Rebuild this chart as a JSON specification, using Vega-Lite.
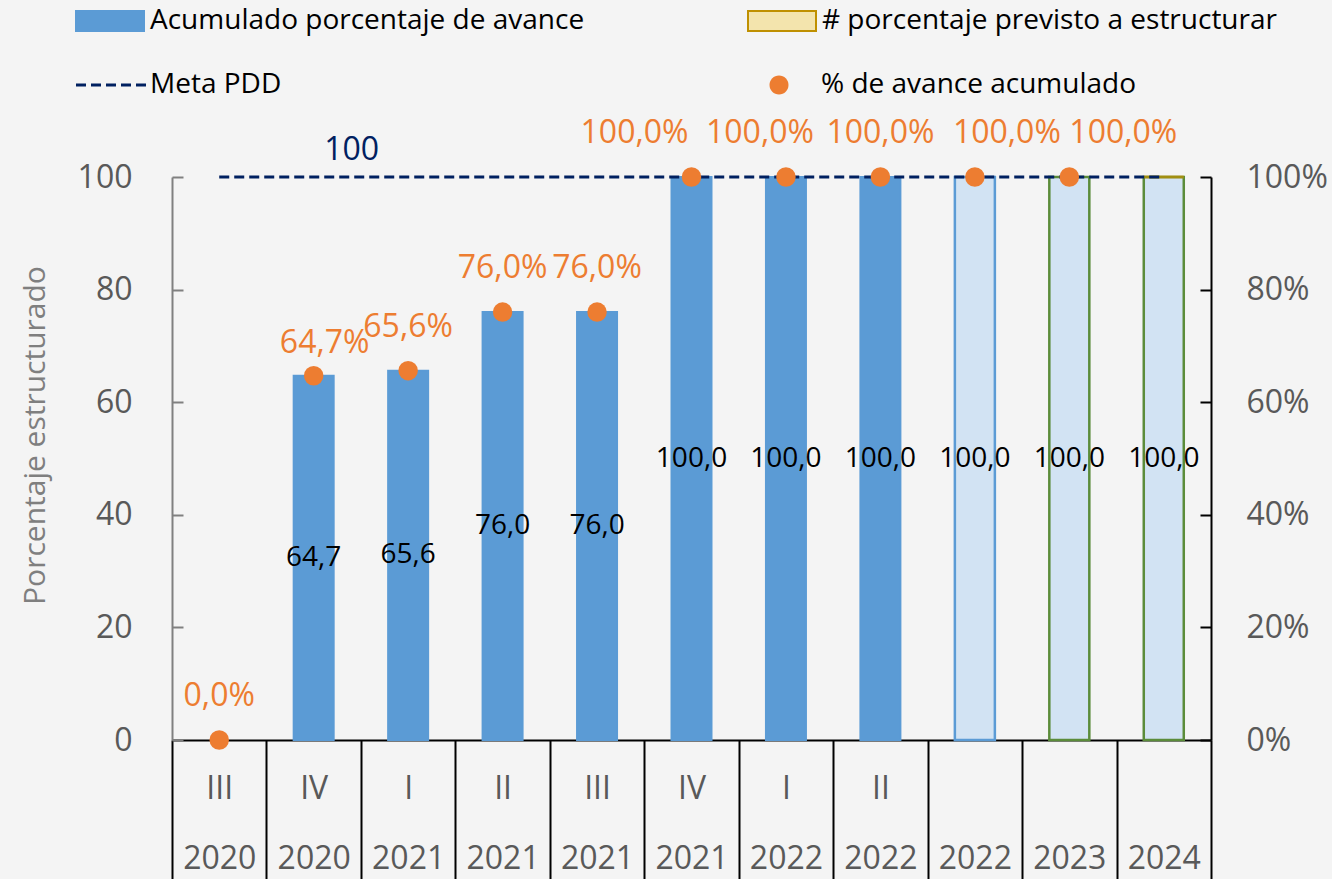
{
  "$schema": "https://vega.github.io/schema/vega-lite/v6.json",
  "width": 1039,
  "height": 563,
  "autosize": {"type": "none"},
  "padding": {"left": 172, "top": 177, "right": 121, "bottom": 139},
  "background": "#f4f4f4",
  "config": {
    "locale": {"number": {"decimal": ",", "thousands": ".", "grouping": [3], "currency": ["", " €"]}},
    "view": {"stroke": null},
    "font": "Open Sans",
    "axis": {"grid": false},
    "legend": {"title": null, "orient": "none", "symbolSize": 400, "labelFontSize": 28, "labelColor": "#000000", "labelOffset": 50, "padding": 0, "labelLimit": 0}
  },
  "data": {
    "values": [
      {"periodo": "III|2020", "tipo": "Acumulado porcentaje de avance", "avance": 0, "pct": 0, "meta": 100},
      {"periodo": "IV|2020", "tipo": "Acumulado porcentaje de avance", "avance": 64.7, "pct": 0.647, "meta": 100},
      {"periodo": "I|2021", "tipo": "Acumulado porcentaje de avance", "avance": 65.6, "pct": 0.656, "meta": 100},
      {"periodo": "II|2021", "tipo": "Acumulado porcentaje de avance", "avance": 76.0, "pct": 0.76, "meta": 100},
      {"periodo": "III|2021", "tipo": "Acumulado porcentaje de avance", "avance": 76.0, "pct": 0.76, "meta": 100},
      {"periodo": "IV|2021", "tipo": "Acumulado porcentaje de avance", "avance": 100.0, "pct": 1.0, "meta": 100},
      {"periodo": "I|2022", "tipo": "Acumulado porcentaje de avance", "avance": 100.0, "pct": 1.0, "meta": 100},
      {"periodo": "II|2022", "tipo": "Acumulado porcentaje de avance", "avance": 100.0, "pct": 1.0, "meta": 100},
      {"periodo": "|2022", "tipo": "# porcentaje previsto a estructurar", "avance": 100.0, "pct": 1.0, "meta": 100},
      {"periodo": "|2023", "tipo": "# porcentaje previsto a estructurar", "avance": 100.0, "pct": 1.0, "meta": 100},
      {"periodo": "|2024", "tipo": "# porcentaje previsto a estructurar", "avance": 100.0, "pct": null, "meta": 100}
    ]
  },
  "layer": [
    {
      "transform": [{"filter": "datum.tipo === 'Acumulado porcentaje de avance' && datum.avance > 0"}],
      "mark": {"type": "bar", "width": 40, "strokeWidth": 2},
      "encoding": {
        "x": {
          "field": "periodo", "type": "nominal", "sort": null,
          "scale": {"domain": ["III|2020", "IV|2020", "I|2021", "II|2021", "III|2021", "IV|2021", "I|2022", "II|2022", "|2022", "|2023", "|2024"], "paddingInner": 0, "paddingOuter": 0},
          "axis": {
            "title": null, "labelExpr": "isValid(datum.value) ? split(datum.value, '|') : ''", "labelAngle": 0,
            "labelFontSize": 32, "labelColor": "#595959", "labelLineHeight": 70,
            "labelBaseline": "top", "labelPadding": -106, "labelOverlap": false, "labelBound": false,
            "tickBand": "extent", "tickSize": 139, "tickColor": "#000000", "tickWidth": 2,
            "domainColor": "#000000", "domainWidth": 2
          }
        },
        "y": {
          "field": "avance", "type": "quantitative",
          "scale": {"domain": [0, 100], "nice": false},
          "axis": {
            "orient": "left", "title": "Porcentaje estructurado", "values": [0, 20, 40, 60, 80, 100],
            "tickSize": -11, "tickColor": "#808080", "tickWidth": 2, "domainColor": "#808080", "domainWidth": 2,
            "labelFontSize": 32, "labelColor": "#595959", "labelPadding": 51,
            "titleFontSize": 30, "titleColor": "#7f7f7f", "titleFontWeight": "normal",
            "titleX": -137, "titleY": 258, "titleAlign": "center", "titleBaseline": "middle", "titleAngle": 270
          }
        },
        "fill": {
          "field": "tipo", "type": "nominal",
          "scale": {"domain": ["Acumulado porcentaje de avance", "# porcentaje previsto a estructurar"], "range": ["#5B9BD5", "#f3e4ad"]},
          "legend": {"legendX": -100, "legendY": -170, "columns": 2, "columnPadding": 159, "symbolType": "M-1,-1H5.8V1H-1Z", "symbolStrokeWidth": 2}
        },
        "stroke": {
          "field": "tipo", "type": "nominal",
          "scale": {"domain": ["Acumulado porcentaje de avance", "# porcentaje previsto a estructurar"], "range": ["#5B9BD5", "#BF9000"]},
          "legend": {"legendX": -100, "legendY": -170, "columns": 2, "columnPadding": 159, "symbolType": "M-1,-1H5.8V1H-1Z", "symbolStrokeWidth": 2}
        }
      }
    },
    {
      "transform": [{"filter": "datum.tipo === '# porcentaje previsto a estructurar'"}],
      "mark": {"type": "bar", "width": 40, "strokeWidth": 2.5, "fill": "#d2e3f3"},
      "encoding": {
        "x": {"field": "periodo", "type": "nominal", "sort": null},
        "y": {"field": "avance", "type": "quantitative", "scale": {"domain": [0, 100], "nice": false}, "axis": null},
        "stroke": {
          "condition": {"test": "datum.periodo === '|2022'", "value": "#5B9BD5"},
          "value": "#5B8C3A"
        }
      }
    },
    {
      "transform": [{"filter": "datum.periodo === '|2024'"}],
      "mark": {"type": "tick", "color": "#BF9000", "size": 40, "thickness": 3, "orient": "horizontal"},
      "encoding": {
        "x": {"field": "periodo", "type": "nominal", "sort": null},
        "y": {"field": "avance", "type": "quantitative", "scale": {"domain": [0, 100], "nice": false}, "axis": null}
      }
    },
    {
      "transform": [{"filter": "datum.avance > 0"}],
      "mark": {"type": "text", "fontSize": 28, "color": "#000000", "baseline": "middle"},
      "encoding": {
        "x": {"field": "periodo", "type": "nominal", "sort": null},
        "y": {"field": "avance", "type": "quantitative", "scale": {"domain": [0, 200], "nice": false}, "axis": null},
        "text": {"field": "avance", "type": "quantitative", "format": ".1f"}
      }
    },
    {
      "mark": {"type": "line", "color": "#002060", "strokeWidth": 3},
      "encoding": {
        "x": {"field": "periodo", "type": "nominal", "sort": null},
        "y": {"field": "meta", "type": "quantitative", "scale": {"domain": [0, 100], "nice": false}, "axis": null},
        "strokeDash": {
          "datum": "Meta PDD", "type": "nominal",
          "scale": {"domain": ["Meta PDD"], "range": [[10, 5]]},
          "legend": {"legendX": -100, "legendY": -106, "symbolType": "M-1,0H6", "symbolStrokeWidth": 3, "symbolStrokeColor": "#002060"}
        }
      }
    },
    {
      "transform": [{"filter": "datum.periodo === 'IV|2020'"}],
      "mark": {"type": "text", "fontSize": 32, "color": "#002060", "baseline": "middle", "dx": 38, "dy": -27},
      "encoding": {
        "x": {"field": "periodo", "type": "nominal", "sort": null},
        "y": {"field": "meta", "type": "quantitative", "scale": {"domain": [0, 100], "nice": false}, "axis": null},
        "text": {"field": "meta", "type": "quantitative", "format": "d"}
      }
    },
    {
      "mark": {"type": "circle", "size": 380, "color": "#ED7D31"},
      "encoding": {
        "x": {"field": "periodo", "type": "nominal", "sort": null},
        "y": {
          "field": "pct", "type": "quantitative",
          "scale": {"domain": [0, 1], "nice": false},
          "axis": {
            "orient": "right", "title": null, "values": [0, 0.2, 0.4, 0.6, 0.8, 1], "format": ".0%",
            "tickSize": -11, "tickColor": "#000000", "tickWidth": 2, "domainColor": "#000000", "domainWidth": 2,
            "labelFontSize": 32, "labelColor": "#595959", "labelPadding": 46
          }
        },
        "opacity": {
          "datum": "% de avance acumulado", "type": "nominal",
          "scale": {"domain": ["% de avance acumulado"], "range": [1]},
          "legend": {"legendX": 571, "legendY": -106, "symbolType": "M1.25,0A0.95,0.95 0 1,0 3.15,0A0.95,0.95 0 1,0 1.25,0Z", "symbolFillColor": "#ED7D31", "symbolStrokeWidth": 0}
        }
      }
    },
    {
      "transform": [{"filter": "indexof(['III|2020','I|2021','II|2021','III|2021','II|2022'], datum.periodo) >= 0"}],
      "mark": {"type": "text", "fontSize": 32, "color": "#ED7D31", "baseline": "middle", "dy": -44},
      "encoding": {
        "x": {"field": "periodo", "type": "nominal", "sort": null},
        "y": {"field": "pct", "type": "quantitative", "scale": {"domain": [0, 1], "nice": false}, "axis": null},
        "text": {"field": "pct", "type": "quantitative", "format": ".1%"}
      }
    },
    {
      "transform": [{"filter": "datum.periodo === 'IV|2020'"}],
      "mark": {"type": "text", "fontSize": 32, "color": "#ED7D31", "baseline": "middle", "dy": -33, "dx": 11},
      "encoding": {
        "x": {"field": "periodo", "type": "nominal", "sort": null},
        "y": {"field": "pct", "type": "quantitative", "scale": {"domain": [0, 1], "nice": false}, "axis": null},
        "text": {"field": "pct", "type": "quantitative", "format": ".1%"}
      }
    },
    {
      "transform": [{"filter": "datum.periodo === 'IV|2021'"}],
      "mark": {"type": "text", "fontSize": 32, "color": "#ED7D31", "baseline": "middle", "dy": -44, "dx": -57},
      "encoding": {
        "x": {"field": "periodo", "type": "nominal", "sort": null},
        "y": {"field": "pct", "type": "quantitative", "scale": {"domain": [0, 1], "nice": false}, "axis": null},
        "text": {"field": "pct", "type": "quantitative", "format": ".1%"}
      }
    },
    {
      "transform": [{"filter": "datum.periodo === 'I|2022'"}],
      "mark": {"type": "text", "fontSize": 32, "color": "#ED7D31", "baseline": "middle", "dy": -44, "dx": -26},
      "encoding": {
        "x": {"field": "periodo", "type": "nominal", "sort": null},
        "y": {"field": "pct", "type": "quantitative", "scale": {"domain": [0, 1], "nice": false}, "axis": null},
        "text": {"field": "pct", "type": "quantitative", "format": ".1%"}
      }
    },
    {
      "transform": [{"filter": "datum.periodo === '|2022'"}],
      "mark": {"type": "text", "fontSize": 32, "color": "#ED7D31", "baseline": "middle", "dy": -44, "dx": 32},
      "encoding": {
        "x": {"field": "periodo", "type": "nominal", "sort": null},
        "y": {"field": "pct", "type": "quantitative", "scale": {"domain": [0, 1], "nice": false}, "axis": null},
        "text": {"field": "pct", "type": "quantitative", "format": ".1%"}
      }
    },
    {
      "transform": [{"filter": "datum.periodo === '|2023'"}],
      "mark": {"type": "text", "fontSize": 32, "color": "#ED7D31", "baseline": "middle", "dy": -44, "dx": 54},
      "encoding": {
        "x": {"field": "periodo", "type": "nominal", "sort": null},
        "y": {"field": "pct", "type": "quantitative", "scale": {"domain": [0, 1], "nice": false}, "axis": null},
        "text": {"field": "pct", "type": "quantitative", "format": ".1%"}
      }
    }
  ],
  "resolve": {"scale": {"y": "independent"}}
}
